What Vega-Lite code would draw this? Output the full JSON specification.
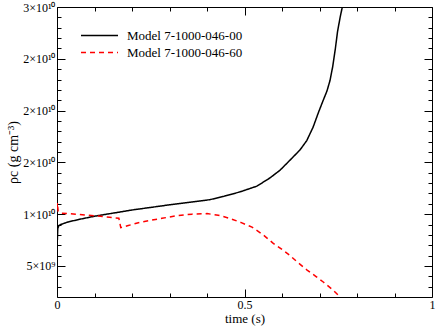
{
  "$schema": "https://vega.github.io/schema/vega-lite/v6.json",
  "autosize": "none",
  "width": 375,
  "height": 290,
  "padding": {"left": 57, "top": 7, "right": 4, "bottom": 30},
  "config": {
    "view": {"stroke": "black", "strokeWidth": 1},
    "font": "Liberation Serif",
    "axis": {"labelFont": "Liberation Serif", "titleFont": "Liberation Serif", "labelColor": "black", "titleColor": "black", "tickColor": "black", "domainColor": "black", "grid": false, "titleFontWeight": "normal"}
  },
  "data": {"values": [
    {"t": 0.0, "rho": 8.8e9, "model": "Model 7-1000-046-00"},
    {"t": 0.001, "rho": 7.5e9, "model": "Model 7-1000-046-00"},
    {"t": 0.002, "rho": 8.6e9, "model": "Model 7-1000-046-00"},
    {"t": 0.005, "rho": 8.9e9, "model": "Model 7-1000-046-00"},
    {"t": 0.01, "rho": 9.0e9, "model": "Model 7-1000-046-00"},
    {"t": 0.03, "rho": 9.25e9, "model": "Model 7-1000-046-00"},
    {"t": 0.06, "rho": 9.5e9, "model": "Model 7-1000-046-00"},
    {"t": 0.1, "rho": 9.8e9, "model": "Model 7-1000-046-00"},
    {"t": 0.15, "rho": 10.1e9, "model": "Model 7-1000-046-00"},
    {"t": 0.2, "rho": 10.4e9, "model": "Model 7-1000-046-00"},
    {"t": 0.25, "rho": 10.65e9, "model": "Model 7-1000-046-00"},
    {"t": 0.3, "rho": 10.9e9, "model": "Model 7-1000-046-00"},
    {"t": 0.355, "rho": 11.15e9, "model": "Model 7-1000-046-00"},
    {"t": 0.408, "rho": 11.4e9, "model": "Model 7-1000-046-00"},
    {"t": 0.443, "rho": 11.7e9, "model": "Model 7-1000-046-00"},
    {"t": 0.488, "rho": 12.15e9, "model": "Model 7-1000-046-00"},
    {"t": 0.533, "rho": 12.7e9, "model": "Model 7-1000-046-00"},
    {"t": 0.568, "rho": 13.5e9, "model": "Model 7-1000-046-00"},
    {"t": 0.595, "rho": 14.25e9, "model": "Model 7-1000-046-00"},
    {"t": 0.621, "rho": 15.2e9, "model": "Model 7-1000-046-00"},
    {"t": 0.648, "rho": 16.2e9, "model": "Model 7-1000-046-00"},
    {"t": 0.666, "rho": 17.1e9, "model": "Model 7-1000-046-00"},
    {"t": 0.683, "rho": 18.4e9, "model": "Model 7-1000-046-00"},
    {"t": 0.697, "rho": 19.8e9, "model": "Model 7-1000-046-00"},
    {"t": 0.71, "rho": 21.0e9, "model": "Model 7-1000-046-00"},
    {"t": 0.72, "rho": 21.9e9, "model": "Model 7-1000-046-00"},
    {"t": 0.728, "rho": 22.9e9, "model": "Model 7-1000-046-00"},
    {"t": 0.735, "rho": 24.2e9, "model": "Model 7-1000-046-00"},
    {"t": 0.742, "rho": 25.9e9, "model": "Model 7-1000-046-00"},
    {"t": 0.748, "rho": 27.6e9, "model": "Model 7-1000-046-00"},
    {"t": 0.755, "rho": 29.0e9, "model": "Model 7-1000-046-00"},
    {"t": 0.762, "rho": 30.2e9, "model": "Model 7-1000-046-00"},
    {"t": 0.77, "rho": 32.0e9, "model": "Model 7-1000-046-00"},
    {"t": 0.0, "rho": 10.6e9, "model": "Model 7-1000-046-60"},
    {"t": 0.001, "rho": 11.1e9, "model": "Model 7-1000-046-60"},
    {"t": 0.003, "rho": 10.3e9, "model": "Model 7-1000-046-60"},
    {"t": 0.01, "rho": 10.1e9, "model": "Model 7-1000-046-60"},
    {"t": 0.05, "rho": 10.0e9, "model": "Model 7-1000-046-60"},
    {"t": 0.1, "rho": 9.85e9, "model": "Model 7-1000-046-60"},
    {"t": 0.14, "rho": 9.7e9, "model": "Model 7-1000-046-60"},
    {"t": 0.165, "rho": 9.6e9, "model": "Model 7-1000-046-60"},
    {"t": 0.17, "rho": 8.7e9, "model": "Model 7-1000-046-60"},
    {"t": 0.19, "rho": 8.9e9, "model": "Model 7-1000-046-60"},
    {"t": 0.22, "rho": 9.2e9, "model": "Model 7-1000-046-60"},
    {"t": 0.25, "rho": 9.4e9, "model": "Model 7-1000-046-60"},
    {"t": 0.28, "rho": 9.6e9, "model": "Model 7-1000-046-60"},
    {"t": 0.32, "rho": 9.85e9, "model": "Model 7-1000-046-60"},
    {"t": 0.36, "rho": 10.0e9, "model": "Model 7-1000-046-60"},
    {"t": 0.4, "rho": 10.05e9, "model": "Model 7-1000-046-60"},
    {"t": 0.43, "rho": 9.9e9, "model": "Model 7-1000-046-60"},
    {"t": 0.46, "rho": 9.6e9, "model": "Model 7-1000-046-60"},
    {"t": 0.49, "rho": 9.2e9, "model": "Model 7-1000-046-60"},
    {"t": 0.52, "rho": 8.75e9, "model": "Model 7-1000-046-60"},
    {"t": 0.55, "rho": 8.0e9, "model": "Model 7-1000-046-60"},
    {"t": 0.576, "rho": 7.2e9, "model": "Model 7-1000-046-60"},
    {"t": 0.6, "rho": 6.6e9, "model": "Model 7-1000-046-60"},
    {"t": 0.62, "rho": 6.05e9, "model": "Model 7-1000-046-60"},
    {"t": 0.64, "rho": 5.4e9, "model": "Model 7-1000-046-60"},
    {"t": 0.667, "rho": 4.6e9, "model": "Model 7-1000-046-60"},
    {"t": 0.69, "rho": 4.0e9, "model": "Model 7-1000-046-60"},
    {"t": 0.71, "rho": 3.45e9, "model": "Model 7-1000-046-60"},
    {"t": 0.735, "rho": 2.7e9, "model": "Model 7-1000-046-60"},
    {"t": 0.755, "rho": 2.0e9, "model": "Model 7-1000-046-60"},
    {"t": 0.765, "rho": 1.7e9, "model": "Model 7-1000-046-60"}
  ]},
  "layer": [
    {
      "mark": {"type": "line", "strokeWidth": 1.5, "clip": true},
      "encoding": {
        "x": {"field": "t", "type": "quantitative", "scale": {"domain": [0, 1], "nice": false, "zero": false},
          "axis": {"orient": "bottom", "values": [0, 0.5, 1], "format": "~g", "tickSize": -8, "labelPadding": 10, "labelFontSize": 12, "title": "time (s)", "titleFontSize": 13, "titlePadding": 2, "domain": false, "labelFlush": false}},
        "y": {"field": "rho", "type": "quantitative", "scale": {"domain": [2e9, 3e10], "nice": false, "zero": false},
          "axis": {"orient": "left", "values": [5e9, 1e10, 1.5e10, 2e10, 2.5e10, 3e10], "tickSize": -8, "labelPadding": 10, "labelFontSize": 12,
            "labelExpr": "datum.value == 5e9 ? '5×10⁹' : datum.value == 1e10 ? '1×10¹⁰' : datum.value == 3e10 ? '3×10¹⁰' : '2×10¹⁰'",
            "title": "ρc (g cm⁻³)", "titleFontSize": 14, "titleX": -37, "domain": false, "labelFlush": false}},
        "color": {"field": "model", "type": "nominal", "scale": {"domain": ["Model 7-1000-046-00", "Model 7-1000-046-60"], "range": ["#000000", "#ff0000"]},
          "legend": {"orient": "none", "legendX": 36, "legendY": 22, "title": null, "padding": 0, "symbolType": "M-3.7,0H3.7", "symbolSize": 100, "symbolStrokeWidth": 1.5, "labelFont": "Liberation Serif", "labelFontSize": 13, "labelColor": "black", "labelOffset": 21, "rowPadding": 3}},
        "strokeDash": {"field": "model", "type": "nominal", "scale": {"domain": ["Model 7-1000-046-00", "Model 7-1000-046-60"], "range": [[1, 0], [5, 4]]},
          "legend": {"orient": "none", "legendX": 36, "legendY": 22, "title": null, "padding": 0, "symbolType": "M-3.7,0H3.7", "symbolSize": 100, "symbolStrokeWidth": 1.5, "labelFont": "Liberation Serif", "labelFontSize": 13, "labelColor": "black", "labelOffset": 21, "rowPadding": 3}}
      }
    },
    {
      "mark": {"type": "point", "opacity": 0},
      "encoding": {
        "x": {"field": "t", "type": "quantitative", "scale": {"domain": [0, 1], "nice": false, "zero": false},
          "axis": {"orient": "bottom", "values": [0.1, 0.2, 0.3, 0.4, 0.6, 0.7, 0.8, 0.9], "tickSize": -4, "labels": false, "title": null, "domain": false}},
        "y": {"field": "rho", "type": "quantitative", "scale": {"domain": [2e9, 3e10], "nice": false, "zero": false},
          "axis": {"orient": "left", "values": [3e9, 4e9, 6e9, 7e9, 8e9, 9e9, 11e9, 12e9, 13e9, 14e9, 16e9, 17e9, 18e9, 19e9, 21e9, 22e9, 23e9, 24e9, 26e9, 27e9, 28e9, 29e9], "tickSize": -4, "labels": false, "title": null, "domain": false}}
      }
    },
    {
      "mark": {"type": "point", "opacity": 0},
      "encoding": {
        "x": {"field": "t", "type": "quantitative", "scale": {"domain": [0, 1], "nice": false, "zero": false},
          "axis": {"orient": "top", "values": [0, 0.5, 1], "tickSize": -8, "labels": false, "title": null, "domain": false}},
        "y": {"field": "rho", "type": "quantitative", "scale": {"domain": [2e9, 3e10], "nice": false, "zero": false},
          "axis": {"orient": "right", "values": [5e9, 1e10, 1.5e10, 2e10, 2.5e10, 3e10], "tickSize": -8, "labels": false, "title": null, "domain": false}}
      }
    },
    {
      "mark": {"type": "point", "opacity": 0},
      "encoding": {
        "x": {"field": "t", "type": "quantitative", "scale": {"domain": [0, 1], "nice": false, "zero": false},
          "axis": {"orient": "top", "values": [0.1, 0.2, 0.3, 0.4, 0.6, 0.7, 0.8, 0.9], "tickSize": -4, "labels": false, "title": null, "domain": false}},
        "y": {"field": "rho", "type": "quantitative", "scale": {"domain": [2e9, 3e10], "nice": false, "zero": false},
          "axis": {"orient": "right", "values": [3e9, 4e9, 6e9, 7e9, 8e9, 9e9, 11e9, 12e9, 13e9, 14e9, 16e9, 17e9, 18e9, 19e9, 21e9, 22e9, 23e9, 24e9, 26e9, 27e9, 28e9, 29e9], "tickSize": -4, "labels": false, "title": null, "domain": false}}
      }
    }
  ],
  "resolve": {"axis": {"x": "independent", "y": "independent"}}
}
